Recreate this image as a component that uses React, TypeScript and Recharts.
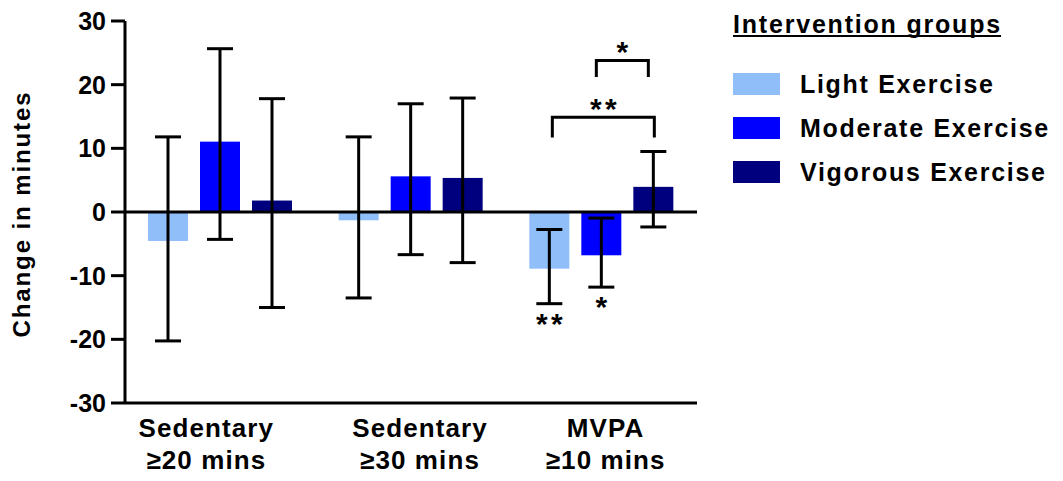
import React from 'react';
import { BarChart, Bar, XAxis, YAxis, ErrorBar, ReferenceLine } from 'recharts';

const FONT = '"Liberation Sans", Arial, sans-serif';

const categories = ['Sedentary\n≥20 mins', 'Sedentary\n≥30 mins', 'MVPA\n≥10 mins'];
// the original figure's category labels are not centred exactly under their groups
const categoryLabelShift = [-14.5, 8.5, 3.5];
const yTicks = [-30, -20, -10, 0, 10, 20, 30];

// means and error bar ends
const lightMean = [-4.55, -1.3, -8.9];
const lightLower = [-20.25, -13.5, -14.4];
const lightUpper = [11.8, 11.8, -2.75];

const moderateMean = [11.05, 5.6, -6.8];
const moderateLower = [-4.3, -6.7, -11.8];
const moderateUpper = [25.65, 17.0, -0.95];

const vigorousMean = [1.8, 5.35, 3.95];
const vigorousLower = [-15.0, -7.95, -2.35];
const vigorousUpper = [17.8, 17.9, 9.5];

// significance stars under the error bars
const lightStars = ['', '', '**'];
const moderateStars = ['', '', '*'];
const vigorousStars = ['', '', ''];

// between-group comparisons (brackets above MVPA)
const bracketCategory = 2;
const bracketFrom = [1, 0];
const bracketTo = [2, 2];
const bracketTop = [23.8, 14.9];
const bracketLeg = [21.2, 11.7];
const bracketLabel = ['*', '**'];
const bracketShift = [[-5, -5], [3, 1]];

const SERIES = [
  { key: 'light', name: 'Light Exercise', color: '#90bef8' },
  { key: 'moderate', name: 'Moderate Exercise', color: '#0000ff' },
  { key: 'vigorous', name: 'Vigorous Exercise', color: '#00007f' },
];

const BAR_SIZE = 40;
const BAR_GAP = 12;

const data = categories.map((name, i) => ({
  name,
  light: lightMean[i],
  lightErr: [lightMean[i] - lightLower[i], lightUpper[i] - lightMean[i]],
  lightLo: lightLower[i],
  lightStar: lightStars[i],
  moderate: moderateMean[i],
  moderateErr: [moderateMean[i] - moderateLower[i], moderateUpper[i] - moderateMean[i]],
  moderateLo: moderateLower[i],
  moderateStar: moderateStars[i],
  vigorous: vigorousMean[i],
  vigorousErr: [vigorousMean[i] - vigorousLower[i], vigorousUpper[i] - vigorousMean[i]],
  vigorousLo: vigorousLower[i],
  vigorousStar: vigorousStars[i],
}));

const Stars = ({ x, y, text }: { x: number; y: number; text: string }) => (
  <text
    x={x + (text.length > 1 ? 1.75 : 0)}
    y={y}
    textAnchor="middle"
    fontSize={30}
    fontWeight="bold"
    fontFamily={FONT}
    letterSpacing={text.length > 1 ? 3.5 : 0}
    fill="#000"
  >
    {text}
  </text>
);

const makeShape = (key: string, seriesIndex: number) => (props: any) => {
  const { x, y, width, height, fill, index, payload } = props;
  const val = payload[key];
  const top = Math.min(y, y + height);
  const h = Math.abs(height);
  const base = val >= 0 ? top + h : top;
  const k = h / Math.abs(val);
  const toPx = (v: number) => base - v * k;
  const cx = x + width / 2;
  const step = width + BAR_GAP;
  const star = payload[key + 'Star'];

  return (
    <g>
      <rect x={x} y={top} width={width} height={h} fill={fill} />
      {star && <Stars x={cx} y={toPx(payload[key + 'Lo']) + 30} text={star} />}
      {seriesIndex === SERIES.length - 1 && index === bracketCategory &&
        bracketLabel.map((label, b) => {
          const x1 = cx - (seriesIndex - bracketFrom[b]) * step + bracketShift[b][0];
          const x2 = cx - (seriesIndex - bracketTo[b]) * step + bracketShift[b][1];
          const yTop = toPx(bracketTop[b]);
          const yLeg = toPx(bracketLeg[b]);
          return (
            <g key={b}>
              <path
                d={`M${x1},${yLeg} V${yTop} H${x2} V${yLeg}`}
                stroke="#000"
                strokeWidth={3}
                fill="none"
              />
              <Stars x={(x1 + x2) / 2} y={yTop + 2} text={label} />
            </g>
          );
        })}
    </g>
  );
};

const CategoryTick = (props: any) => {
  const { x, y, payload, index } = props;
  const lines = String(payload.value).split('\n');
  const shift = categoryLabelShift[index] ?? 0;
  return (
    <g>
      {lines.map((line, i) => (
        <text
          key={i}
          x={x + shift + 0.5}
          y={y + 34 + i * 32}
          textAnchor="middle"
          fontSize={26}
          fontWeight="bold"
          fontFamily={FONT}
          letterSpacing={1.1}
          fill="#000"
        >
          {line}
        </text>
      ))}
    </g>
  );
};

const App: React.FC = () => {
  return (
    <div style={{ position: 'absolute', left: 0, top: 0, width: 1063, height: 481 }}>
      <BarChart
        width={1063}
        height={481}
        data={data}
        margin={{ top: 21, right: 366, bottom: 8, left: 60 }}
        barSize={BAR_SIZE}
        barGap={BAR_GAP}
      >
        <XAxis
          dataKey="name"
          height={70}
          tickLine={false}
          tickSize={0}
          tickMargin={0}
          axisLine={{ stroke: '#000', strokeWidth: 3 }}
          tick={<CategoryTick />}
          interval={0}
        />
        <YAxis
          type="number"
          domain={[-30, 30]}
          ticks={yTicks}
          interval={0}
          width={65}
          tickSize={14}
          tickMargin={5}
          axisLine={{ stroke: '#000', strokeWidth: 3 }}
          tickLine={{ stroke: '#000', strokeWidth: 3 }}
          tick={{ fill: '#000', fontSize: 25, fontWeight: 'bold', fontFamily: FONT }}
        />
        {SERIES.map((s, si) => (
          <Bar
            key={s.key}
            dataKey={s.key}
            name={s.name}
            fill={s.color}
            isAnimationActive={false}
            shape={makeShape(s.key, si)}
          >
            <ErrorBar
              dataKey={s.key + 'Err'}
              direction="y"
              width={13}
              stroke="#000"
              strokeWidth={3}
              isAnimationActive={false}
            />
          </Bar>
        ))}
        <ReferenceLine y={0} stroke="#000" strokeWidth={3} />
      </BarChart>

      <svg
        width={1063}
        height={481}
        style={{ position: 'absolute', left: 0, top: 0, pointerEvents: 'none' }}
      >
        <text
          transform="translate(30, 214) rotate(-90)"
          textAnchor="middle"
          fontSize={24}
          fontWeight="bold"
          fontFamily={FONT}
          letterSpacing={1.9}
          fill="#000"
        >
          Change in minutes
        </text>

        <text
          x={733}
          y={33}
          fontSize={25}
          fontWeight="bold"
          fontFamily={FONT}
          letterSpacing={1.8}
          fill="#000"
        >
          Intervention groups
        </text>
        <line x1={733} x2={1001} y1={36} y2={36} stroke="#000" strokeWidth={2} />

        {SERIES.map((s, i) => (
          <g key={s.key}>
            <rect x={733} y={73 + i * 44} width={47} height={22} fill={s.color} />
            <text
              x={800}
              y={93 + i * 44}
              fontSize={25}
              fontWeight="bold"
              fontFamily={FONT}
              letterSpacing={1.7}
              fill="#000"
            >
              {s.name}
            </text>
          </g>
        ))}
      </svg>
    </div>
  );
};

export default App;
